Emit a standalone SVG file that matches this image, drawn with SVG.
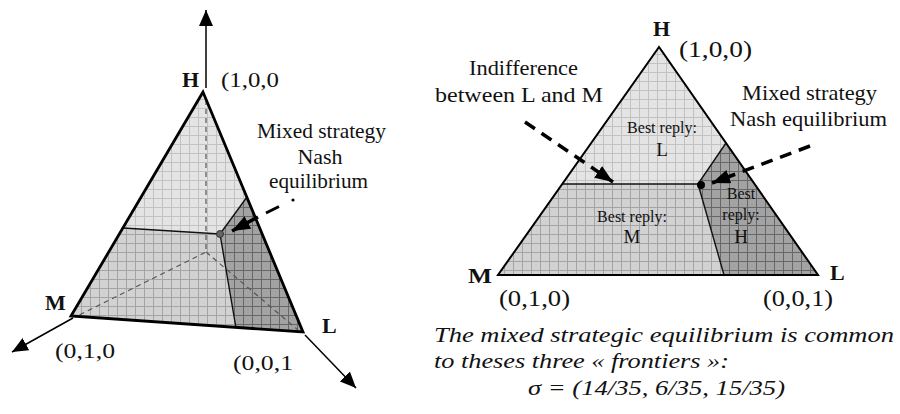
<svg xmlns="http://www.w3.org/2000/svg" width="900" height="414" viewBox="0 0 900 414">
<style>
text{font-family:"Liberation Serif","Times New Roman",serif;fill:#111}
.b{font-weight:bold;font-size:22px}
.t{font-size:22px}
.c{font-size:24px}
.s{font-size:16px;text-anchor:middle}
.sl{font-size:19px;text-anchor:middle}
.i{font-style:italic;font-size:22px}
.edge{fill:none;stroke:#000;stroke-linejoin:miter}
.div{fill:none;stroke:#111;stroke-width:1.4}
.dash{fill:none;stroke:#000;stroke-width:3.5;stroke-dasharray:12 8}
.ax{stroke:#000;stroke-width:1.5;fill:none}
.hid{stroke:#555;stroke-width:1.2;stroke-dasharray:5 4;fill:none}
</style>
<defs>
<pattern id="pL" width="9" height="9" patternUnits="userSpaceOnUse">
<rect width="9" height="9" fill="#e4e4e4"/>
<path d="M0 0.5H9M0.5 0V9" stroke="#c2c2c2" stroke-width="1"/>
</pattern>
<pattern id="pM" width="9" height="9" patternUnits="userSpaceOnUse">
<rect width="9" height="9" fill="#d2d2d2"/>
<path d="M0 0.5H9M0.5 0V9" stroke="#a4a4a4" stroke-width="1"/>
</pattern>
<pattern id="pH" width="9" height="9" patternUnits="userSpaceOnUse">
<rect width="9" height="9" fill="#a3a3a3"/>
<path d="M0 0.5H9M0.5 0V9" stroke="#676767" stroke-width="1"/>
</pattern>
<marker id="ah" viewBox="0 0 10 10" refX="10" refY="5" markerWidth="9" markerHeight="9" markerUnits="userSpaceOnUse" orient="auto">
<path d="M0 0L10 5L0 10z" fill="#000"/>
</marker>
<marker id="axh" viewBox="0 0 10 10" refX="10" refY="5" markerWidth="16" markerHeight="14" markerUnits="userSpaceOnUse" orient="auto" preserveAspectRatio="none">
<path d="M0 0L10 5L0 10z" fill="#000"/>
</marker>
<marker id="dh" viewBox="0 0 10 10" refX="10" refY="5" markerWidth="18" markerHeight="14" markerUnits="userSpaceOnUse" orient="auto" preserveAspectRatio="none">
<path d="M0 0L10 5L0 10z" fill="#000"/>
</marker>
</defs>

<!-- LEFT: 3D simplex -->
<g id="left-regions">
<polygon points="203,92 123,228 220,234 247,197" fill="url(#pL)"/>
<polygon points="123,228 220,234 236,328 71,316" fill="url(#pM)"/>
<polygon points="247,197 220,234 236,328 303,332" fill="url(#pH)"/>
</g>
<g id="left-hidden">
<path class="hid" d="M206,100V252L75,317M206,252L298,330"/>
</g>
<g id="left-dividers">
<path class="div" d="M123,228L220,234L247,197M220,234L236,328"/>
</g>
<g id="left-triangle">
<path class="edge" stroke-width="2.8" d="M203,92L71,316L303,332Z"/>
</g>
<g id="left-axes">
<path class="ax" d="M206,88V10" marker-end="url(#axh)"/>
<path class="ax" d="M73,318L12,352" marker-end="url(#axh)"/>
<path class="ax" d="M305,335L356,388" marker-end="url(#axh)"/>
</g>
<g id="left-eq">
<circle cx="220" cy="234" r="3.5" fill="#666" stroke="#333" stroke-width="1"/>
</g>
<g id="left-labels">
<text class="b" x="182" y="87">H</text>
<text class="t" x="221" y="87" textLength="58" lengthAdjust="spacingAndGlyphs">(1,0,0</text>
<text class="t" x="257" y="138" textLength="129" lengthAdjust="spacingAndGlyphs">Mixed strategy</text>
<text class="t" x="320" y="164" text-anchor="middle">Nash</text>
<text class="t" x="269" y="188" textLength="99" lengthAdjust="spacingAndGlyphs">equilibrium</text>
<text class="b" x="45" y="310">M</text>
<text class="b" x="322" y="333">L</text>
<text class="t" x="55" y="358" textLength="60" lengthAdjust="spacingAndGlyphs">(0,1,0</text>
<text class="t" x="233" y="370" textLength="60" lengthAdjust="spacingAndGlyphs">(0,0,1</text>
</g>

<!-- RIGHT: 2D simplex -->
<g id="right-regions">
<polygon points="659,47 562,184 698,184 726,143" fill="url(#pL)"/>
<polygon points="562,184 698,184 724,275 498,275" fill="url(#pM)"/>
<polygon points="726,143 698,184 724,275 818,275" fill="url(#pH)"/>
</g>
<g id="right-dividers">
<path class="div" d="M562,184H698L726,143M698,184L724,275"/>
</g>
<g id="right-triangle">
<path class="edge" stroke-width="2" d="M659,47L498,275H818Z"/>
</g>
<g id="right-eq">
<circle cx="701" cy="185" r="4" fill="#000"/>
</g>
<g id="right-labels">
<text class="b" x="653" y="36">H</text>
<text class="c" x="679" y="57" textLength="73" lengthAdjust="spacingAndGlyphs">(1,0,0)</text>
<text class="t" x="469" y="75" textLength="109" lengthAdjust="spacingAndGlyphs">Indifference</text>
<text class="t" x="435" y="102" textLength="168" lengthAdjust="spacingAndGlyphs">between L and M</text>
<text class="t" x="742" y="100" textLength="135" lengthAdjust="spacingAndGlyphs">Mixed strategy</text>
<text class="t" x="730" y="126" textLength="157" lengthAdjust="spacingAndGlyphs">Nash equilibrium</text>
<text class="b" x="468" y="283" textLength="24" lengthAdjust="spacingAndGlyphs">M</text>
<text class="b" x="830" y="280">L</text>
<text class="c" x="499" y="306" textLength="71" lengthAdjust="spacingAndGlyphs">(0,1,0)</text>
<text class="c" x="763" y="306" textLength="70" lengthAdjust="spacingAndGlyphs">(0,0,1)</text>
<text class="s" x="662" y="133">Best reply:</text>
<text class="sl" x="662" y="156">L</text>
<text class="s" x="632" y="222">Best reply:</text>
<text class="sl" x="632" y="243">M</text>
<text class="s" x="741" y="199">Best</text>
<text class="s" x="741" y="220">reply:</text>
<text class="sl" x="741" y="243">H</text>
<text class="i" x="434" y="342" textLength="460" lengthAdjust="spacingAndGlyphs">The mixed strategic equilibrium is common</text>
<text class="i" x="434" y="368" textLength="295" lengthAdjust="spacingAndGlyphs">to theses three « frontiers »:</text>
<text class="i" x="528" y="395" textLength="257" lengthAdjust="spacingAndGlyphs">σ = (14/35, 6/35, 15/35)</text>
</g>

<g id="connectors">
<circle cx="293" cy="200" r="1.6" fill="#000"/>
<path d="M266,213L279,206.5" stroke="#000" stroke-width="3" fill="none"/>
<path d="M258,217L232,231" stroke="#000" stroke-width="3.5" fill="none" marker-end="url(#dh)"/>
<path class="dash" d="M525,122L613,182" marker-end="url(#dh)"/>
<path class="dash" d="M810,146L712,183" marker-end="url(#dh)"/>
</g>
</svg>
